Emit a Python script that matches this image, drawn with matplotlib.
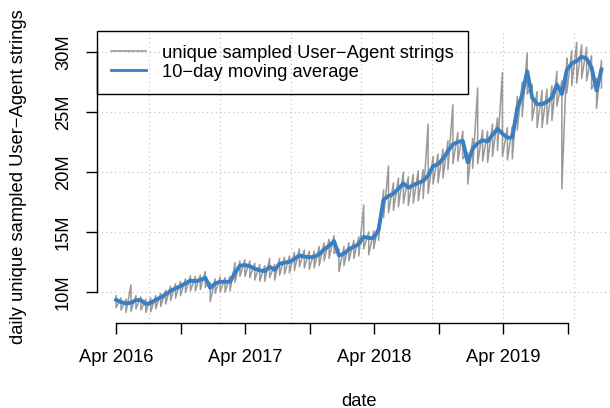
import matplotlib
matplotlib.use("Agg")
import matplotlib.dates as mdates
import matplotlib.pyplot as plt
import numpy as np
import pandas as pd

plt.rcParams["font.family"] = ["Liberation Sans", "DejaVu Sans"]

# two-week samples, values in millions
dates = pd.date_range("2016-04-01", periods=99, freq="14D")

moving_avg = [
    9.35, 9.15, 9.06, 9.10, 9.33, 9.33, 9.00, 9.10, 9.35, 9.55,
    9.80, 10.10, 10.30, 10.50, 10.72, 10.95, 10.90, 11.00, 11.20, 10.35,
    10.72, 10.85, 10.86, 10.86, 11.60, 12.20, 12.25, 12.15, 11.95, 11.80,
    11.75, 12.10, 11.85, 12.35, 12.45, 12.52, 12.75, 13.05, 12.95, 12.90,
    12.93, 13.15, 13.55, 13.85, 14.25, 13.05, 13.20, 13.55, 13.78, 14.00,
    14.60, 14.50, 14.50, 15.20, 17.70, 18.00, 18.20, 18.60, 19.05, 18.70,
    18.90, 19.10, 19.25, 19.70, 20.50, 20.65, 21.10, 21.75, 22.30, 22.50,
    22.60, 20.80, 21.95, 22.40, 22.65, 22.55, 23.10, 23.60, 23.20, 22.85,
    22.90, 25.30, 26.45, 28.40, 26.20, 25.65, 25.65, 25.86, 26.20, 27.30,
    26.50, 28.50, 29.05, 29.25, 29.60, 29.45, 28.70, 26.80, 28.55,
]

daily_low = [
    8.70, 8.50, 8.30, 8.40, 8.60, 8.50, 8.30, 8.35, 8.60, 8.80,
    9.00, 9.30, 9.50, 9.70, 9.95, 10.10, 10.10, 10.20, 10.40, 9.20,
    9.90, 10.00, 10.00, 10.10, 10.80, 11.30, 11.30, 11.20, 11.00, 10.90,
    10.90, 11.20, 11.00, 11.40, 11.50, 11.60, 11.80, 12.10, 12.00, 11.90,
    12.00, 12.20, 12.60, 12.80, 13.20, 11.70, 12.20, 12.60, 12.80, 13.00,
    13.60, 13.10, 13.60, 14.30, 16.20, 16.60, 16.80, 17.10, 17.40, 17.20,
    17.40, 17.60, 17.80, 18.20, 19.00, 19.10, 19.50, 20.20, 20.70, 20.90,
    21.10, 19.00, 20.30, 20.70, 20.90, 20.80, 21.30, 21.80, 21.30, 21.00,
    21.10, 23.50, 24.60, 26.50, 24.30, 23.70, 23.70, 24.00, 24.30, 25.50,
    18.60, 26.60, 27.20, 27.40, 27.80, 27.60, 26.90, 25.30, 27.00,
]

daily_high = [
    9.70, 9.50, 9.40, 10.60, 9.70, 9.60, 9.40, 9.50, 9.70, 9.90,
    10.15, 10.50, 10.70, 10.90, 11.10, 11.35, 11.30, 11.40, 11.70, 10.80,
    11.10, 11.25, 11.20, 11.30, 12.45, 12.60, 12.70, 12.60, 12.40, 12.30,
    12.20, 12.80, 12.30, 12.80, 12.90, 13.00, 13.30, 13.60, 13.50, 13.40,
    13.40, 13.80, 14.10, 14.40, 14.70, 13.60, 13.80, 14.10, 14.30, 14.60,
    17.25, 15.00, 15.10, 15.70, 18.50, 20.50, 19.10, 19.50, 20.00, 19.60,
    19.80, 20.10, 20.20, 24.00, 21.30, 21.50, 21.90, 22.60, 25.60, 23.30,
    23.40, 21.60, 22.80, 27.00, 23.50, 23.40, 24.00, 24.50, 28.30, 23.70,
    23.80, 26.30, 27.50, 29.90, 27.30, 26.70, 26.80, 26.90, 27.20, 28.40,
    27.60, 29.50, 30.10, 30.80, 30.60, 30.40, 29.70, 27.80, 29.30,
]

grid_dates = pd.to_datetime([
    "2016-07-03", "2017-01-19", "2017-08-07", "2018-02-23",
    "2018-09-11", "2019-03-30", "2019-10-16",
])
y_ticks = [10, 15, 20, 25, 30]
y_tick_labels = ["10M", "15M", "20M", "25M", "30M"]
x_ticks = pd.to_datetime([
    "2016-04-01", "2016-10-01", "2017-04-01", "2017-10-01",
    "2018-04-01", "2018-10-01", "2019-04-01", "2019-10-01",
])
x_tick_labels = ["Apr 2016", "", "Apr 2017", "", "Apr 2018", "", "Apr 2019", ""]

raw_color = "#9a9a9a"
avg_color = "#3a7fc1"

fig = plt.figure(figsize=(6.1, 4.08), dpi=100)
ax = fig.add_axes([97 / 610, 85 / 408, 525 / 610, 292 / 408])

ax.set_xlim(pd.Timestamp("2016-02-07"), pd.Timestamp("2020-03-01"))
ax.set_ylim(7.42, 31.75)

# grid like R's grid(): dotted light gray
for d in grid_dates:
    ax.axvline(d, color="#c8c8c8", lw=0.9, ls=(0, (1, 2.5)), zorder=0)
for v in y_ticks:
    ax.axhline(v, color="#c8c8c8", lw=0.9, ls=(0, (1, 2.5)), zorder=0)

# daily values drawn as a high/low zigzag
zig_x = np.repeat(dates.values, 2)
zig_y = np.column_stack([daily_high, daily_low]).ravel()
ax.plot(zig_x, zig_y, color=raw_color, lw=1.1, zorder=2,
        label="unique sampled User\u2212Agent strings")
ax.plot(dates, moving_avg, color=avg_color, lw=2.8, zorder=3,
        label="10\u2212day moving average")

for side in ("top", "right"):
    ax.spines[side].set_visible(False)
ax.spines["left"].set_bounds(10, 30)
ax.spines["bottom"].set_bounds(mdates.date2num(x_ticks[0]), mdates.date2num(x_ticks[-1]))
ax.spines["left"].set_linewidth(1)
ax.spines["bottom"].set_linewidth(1)

ax.set_yticks(y_ticks)
ax.set_yticklabels(y_tick_labels, rotation=90, va="center")
ax.set_xticks(x_ticks)
ax.set_xticklabels(x_tick_labels)
ax.tick_params(axis="both", length=8, width=1, labelsize=13.2, color="black")
ax.tick_params(axis="x", pad=11)
ax.tick_params(axis="y", pad=10)

leg = ax.legend(loc="upper left", bbox_to_anchor=(0, 1), borderaxespad=0,
                fontsize=13.2, handlelength=1.9, handletextpad=0.9,
                labelspacing=0.1, borderpad=0.75, fancybox=False,
                framealpha=1, facecolor="none", edgecolor="black")
leg.get_frame().set_linewidth(1)
leg.get_lines()[0].set_linewidth(1.2)
leg.get_lines()[1].set_linewidth(2)

fig.text(359.5 / 610, 1 - 401 / 408, "date", ha="center", va="center", fontsize=13.2)
fig.text(19 / 610, 1 - 177 / 408, "daily unique sampled User\u2212Agent strings",
         ha="center", va="center", rotation=90, fontsize=13.2)

fig.savefig("out.png", dpi=100)
